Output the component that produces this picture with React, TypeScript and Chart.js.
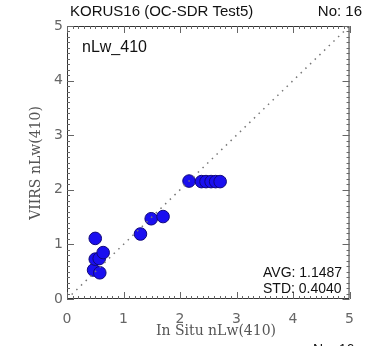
import React, { useEffect, useRef } from "react";
import { Chart, registerables } from "chart.js";

Chart.register(...registerables);

const inSitu = [0.5, 0.47, 0.5, 0.57, 0.64, 0.58, 1.3, 1.49, 1.7, 2.16, 2.38, 2.46, 2.55, 2.63, 2.71];
const viirs = [1.11, 0.53, 0.73, 0.74, 0.85, 0.48, 1.19, 1.47, 1.51, 2.16, 2.15, 2.15, 2.15, 2.15, 2.15];
const axisTicks = [0, 1, 2, 3, 4, 5];
const titleText = "KORUS16 (OC-SDR Test5)";
const countText = "No: 16";
const bandText = "nLw_410";
const avgText = "AVG: 1.1487";
const stdText = "STD: 0.4040";
const xTitle = "In Situ nLw(410)";
const yTitle = "VIIRS nLw(410)";

const L = 67, R = 364, T = 26, B = 299, W = 366, H = 346;

const framePlugin = {
  id: "frame",
  afterDatasetsDraw(chart: any) {
    const ctx = chart.ctx;
    const xs = chart.scales.x;
    const ys = chart.scales.y;
    const a = chart.chartArea;
    ctx.save();
    ctx.strokeStyle = "#333";
    ctx.lineWidth = 1;
    ctx.beginPath();
    ctx.rect(a.left + 0.5, a.top + 0.5, a.right - a.left - 1, a.bottom - a.top - 1);
    ctx.stroke();
    ctx.strokeStyle = "#666";
    ctx.beginPath();
    for (let i = 0; i <= 50; i++) {
      const v = i / 10;
      const len = i % 10 === 0 ? 7 : 3;
      const px = Math.round(xs.getPixelForValue(v)) + 0.5;
      ctx.moveTo(px, a.bottom);
      ctx.lineTo(px, a.bottom - len);
      ctx.moveTo(px, a.top);
      ctx.lineTo(px, a.top + len);
      const py = Math.round(ys.getPixelForValue(v)) + 0.5;
      ctx.moveTo(a.left, py);
      ctx.lineTo(a.left + len, py);
      ctx.moveTo(a.right, py);
      ctx.lineTo(a.right - len, py);
    }
    ctx.stroke();
    ctx.restore();
  },
  afterDraw(chart: any) {
    const ctx = chart.ctx;
    ctx.save();
    ctx.fillStyle = "#111";
    ctx.textBaseline = "middle";
    ctx.font = "15px 'Liberation Sans', Arial, sans-serif";
    ctx.textAlign = "left";
    ctx.fillText(titleText, 70, 12);
    ctx.textAlign = "right";
    ctx.fillText(countText, 362, 12);
    ctx.textAlign = "left";
    ctx.font = "16px 'Liberation Sans', Arial, sans-serif";
    ctx.fillText(bandText, 82, 48);
    ctx.font = "14px 'Liberation Sans', Arial, sans-serif";
    ctx.fillText(avgText, 263, 273);
    ctx.fillText(stdText, 263, 289);
    ctx.fillText(countText, 313, 350);
    ctx.fillStyle = "#555";
    ctx.font = "14px 'DejaVu Serif', serif";
    ctx.textAlign = "center";
    ctx.fillText(xTitle, 216, 331);
    ctx.translate(36, 163);
    ctx.rotate(-Math.PI / 2);
    ctx.fillText(yTitle, 0, 0);
    ctx.restore();
  },
};

export default function App() {
  const ref = useRef<HTMLCanvasElement>(null);
  useEffect(() => {
    document.body.style.margin = "0";
    const pts = inSitu.map((x, i) => ({ x, y: viirs[i] }));
    const chart = new Chart(ref.current!, {
      type: "scatter",
      data: {
        datasets: [
          {
            type: "line",
            data: [
              { x: axisTicks[0], y: axisTicks[0] },
              { x: axisTicks[axisTicks.length - 1], y: axisTicks[axisTicks.length - 1] },
            ],
            borderColor: "#777",
            borderWidth: 1.5,
            borderDash: [1.5, 5],
            pointRadius: 0,
            fill: false,
          },
          {
            data: pts,
            backgroundColor: "#1a0ff0",
            borderColor: "#10087a",
            borderWidth: 1,
            pointRadius: 6.3,
          },
        ],
      },
      options: {
        responsive: false,
        animation: false,
        layout: { padding: { top: T, right: W - R, left: 0, bottom: 0 } },
        plugins: { legend: { display: false }, tooltip: { enabled: false }, title: { display: false } },
        scales: {
          x: {
            type: "linear",
            min: 0,
            max: 5,
            afterFit: (s: any) => { s.height = H - B; },
            grid: { display: false, drawTicks: false },
            border: { display: false },
            ticks: {
              stepSize: 1,
              padding: 12,
              color: "#666",
              font: { size: 14, family: "'DejaVu Sans', sans-serif", weight: "normal" },
            },
          },
          y: {
            type: "linear",
            min: 0,
            max: 5,
            afterFit: (s: any) => { s.width = L; },
            grid: { display: false, drawTicks: false },
            border: { display: false },
            ticks: {
              stepSize: 1,
              padding: 4,
              color: "#666",
              font: { size: 14, family: "'DejaVu Sans', sans-serif", weight: "normal" },
            },
          },
        },
      },
      plugins: [framePlugin],
    } as any);
    return () => chart.destroy();
  }, []);
  return <canvas ref={ref} width={W} height={H} style={{ display: "block", background: "#fff" }} />;
}
